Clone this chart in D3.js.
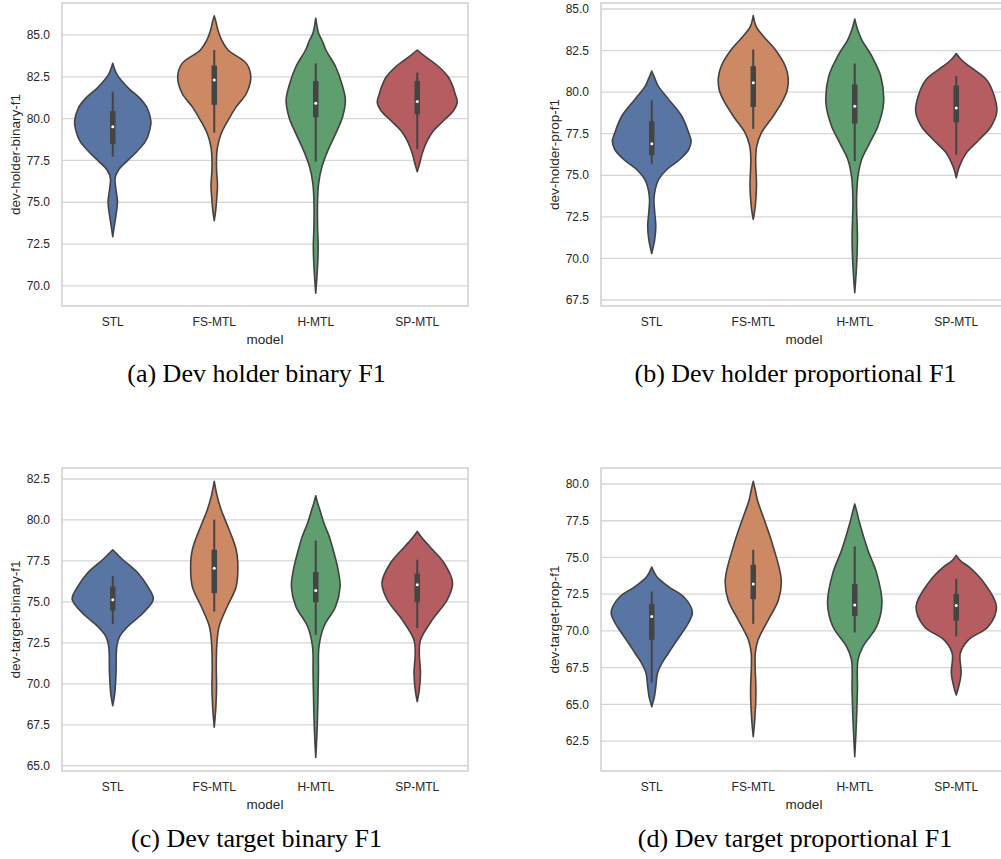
<!DOCTYPE html>
<html>
<head>
<meta charset="utf-8">
<script src="https://cdn.jsdelivr.net/npm/d3@7"></script>
<style>
  body { margin: 0; background: #fff; }
  .tick-label { font-family: "Liberation Sans", Arial, sans-serif; font-size: 12px; fill: #262626; }
  .axis-label { font-family: "Liberation Sans", Arial, sans-serif; font-size: 13.5px; fill: #262626; }
  .caption { font-family: "Liberation Serif", "Times New Roman", serif; font-size: 26px; fill: #000; }
</style>
</head>
<body>
<div id="chart"></div>
<script>
// categories shared by all four panels
var categories = ["STL", "FS-MTL", "H-MTL", "SP-MTL"]
var colors = ["#5975a4", "#cc8963", "#5f9e6e", "#b55d60"]

// violin outlines: [value, relative density] from top tip to bottom tip
var holderBinaryShapes = [
  [[83.31,0],[82.61,.11],[81.81,.39],[81.21,.67],[80.62,.85],[79.82,.94],[79.22,.9],[78.62,.8],[78.02,.59],[77.43,.34],[76.93,.14],[76.43,.057],[75.84,.074],[75.04,.115],[74.24,.08],[73.45,.03],[72.94,0]],
  [[86.14,0],[85.8,.04],[85.3,.09],[84.7,.18],[84.1,.34],[83.3,.79],[82.5,.9],[81.5,.79],[80.7,.54],[79.9,.34],[79.1,.17],[78.3,.08],[77.5,.055],[76.8,.06],[76.0,.08],[75.2,.06],[74.5,.035],[73.9,0]],
  [[86.0,0],[85.1,.07],[84.7,.15],[84.1,.25],[83.1,.49],[82.1,.64],[81.1,.73],[80.1,.66],[79.1,.49],[78.1,.3],[77.1,.15],[76.1,.07],[75.1,.045],[73.5,.045],[72.35,.06],[71.2,.045],[69.56,0]],
  [[84.1,0],[83.7,.2],[83.1,.53],[82.5,.76],[81.9,.88],[81.5,.93],[81.0,.985],[80.5,.9],[79.9,.66],[79.3,.41],[78.7,.25],[77.9,.12],[77.3,.057],[76.83,0]]
]
var holderPropShapes = [
  [[81.26,0],[80.86,.07],[80.36,.16],[79.55,.42],[78.55,.74],[77.55,.91],[77.05,.97],[76.55,.91],[75.95,.69],[75.35,.37],[74.75,.17],[74.15,.086],[73.55,.054],[72.75,.074],[71.95,.1],[71.15,.074],[70.3,0]],
  [[84.6,0],[83.96,.07],[83.36,.25],[82.56,.54],[81.56,.79],[80.86,.86],[80.16,.84],[79.55,.74],[78.55,.49],[77.55,.2],[76.75,.086],[75.95,.06],[74.35,.08],[73.15,.05],[72.35,0]],
  [[84.4,0],[83.76,.07],[83.16,.17],[82.16,.42],[80.96,.64],[79.35,.71],[77.95,.57],[76.95,.37],[75.95,.17],[74.95,.08],[73.55,.045],[71.15,.066],[69.55,.045],[67.94,0]],
  [[82.32,0],[81.96,.12],[81.56,.32],[80.76,.74],[79.96,.91],[78.85,1.0],[77.95,.86],[77.15,.57],[76.35,.25],[75.55,.08],[74.85,0]]
]
var targetBinaryShapes = [
  [[78.18,0],[77.88,.12],[77.57,.25],[76.76,.62],[75.94,.86],[75.17,1.0],[74.31,.74],[73.5,.37],[72.89,.17],[72.28,.1],[70.65,.08],[69.43,.05],[68.67,0]],
  [[82.36,0],[81.44,.074],[80.62,.17],[79.81,.3],[79.0,.43],[78.18,.54],[77.37,.58],[75.94,.54],[74.72,.32],[73.5,.12],[72.48,.066],[71.05,.05],[69.83,.057],[68.61,.04],[67.35,0]],
  [[81.48,0],[81.0,.05],[80.62,.1],[79.81,.2],[79.0,.33],[77.98,.45],[76.96,.55],[75.94,.6],[74.72,.49],[73.5,.2],[72.28,.08],[70.65,.066],[68.61,.05],[66.98,.03],[65.51,0]],
  [[79.3,0],[78.9,.12],[78.39,.3],[77.37,.66],[76.15,.87],[75.13,.74],[73.9,.37],[72.68,.08],[71.87,.05],[70.65,.08],[69.63,.05],[68.92,0]]
]
var targetPropShapes = [
  [[74.34,0],[73.7,.12],[73.02,.41],[72.34,.78],[71.66,.96],[71.21,1.0],[70.52,.9],[69.84,.74],[69.16,.57],[68.48,.41],[67.8,.25],[67.12,.14],[66.2,.1],[65.52,.066],[64.84,0]],
  [[80.18,0],[79.6,.05],[78.93,.1],[77.34,.3],[75.75,.49],[73.48,.69],[72.11,.62],[70.75,.37],[69.39,.12],[68.48,.05],[65.75,.066],[63.93,.037],[62.8,0]],
  [[78.64,0],[78.02,.06],[77.34,.12],[75.52,.32],[73.93,.54],[71.89,.67],[70.3,.54],[68.93,.2],[68.02,.08],[65.98,.066],[63.7,.04],[61.43,0]],
  [[75.14,0],[74.73,.12],[74.39,.3],[73.25,.69],[71.66,.99],[70.3,.79],[69.39,.3],[68.48,.1],[67.11,.12],[66.2,.06],[65.64,0]]
]

// inner box stats: [whisker low, q1, median, q3, whisker high]
var holderBinaryBox = [[77.73,78.49,79.52,80.46,81.61],[79.16,80.82,82.31,83.17,84.1],[77.43,80.08,80.92,82.25,83.3],[78.17,80.26,81.02,82.25,82.75]]
var holderPropBox = [[75.69,76.21,76.89,78.25,79.51],[77.79,79.11,80.56,81.56,82.56],[75.85,78.11,79.15,80.46,81.72],[76.25,78.19,79.05,80.4,80.96]]
var targetBinaryBox = [[73.64,74.48,75.13,75.94,76.59],[74.41,75.53,77.06,78.18,80.02],[72.99,74.98,75.7,76.82,78.75],[73.4,74.98,76.04,76.72,77.57]]
var targetPropBox = [[66.48,69.39,70.98,71.82,72.68],[70.48,72.16,73.2,74.5,75.52],[69.89,71.02,71.77,73.18,75.75],[69.61,70.7,71.73,72.52,73.55]]

// y ticks per panel
var holderBinaryTicks = [70, 72.5, 75, 77.5, 80, 82.5, 85]
var holderPropTicks = [67.5, 70, 72.5, 75, 77.5, 80, 82.5, 85]
var targetBinaryTicks = [65, 67.5, 70, 72.5, 75, 77.5, 80, 82.5]
var targetPropTicks = [62.5, 65, 67.5, 70, 72.5, 75, 77.5, 80]

var svg = d3.select("#chart").append("svg")
  .attr("width", 1001)
  .attr("height", 859)

var panels = [
  {shapes: holderBinaryShapes, box: holderBinaryBox, ticks: holderBinaryTicks, domain: [68.8, 86.91],
   left: 62, top: 3, ylabel: "dev-holder-binary-f1", caption: "(a) Dev holder binary F1", capX: 256.5},
  {shapes: holderPropShapes, box: holderPropBox, ticks: holderPropTicks, domain: [67.14, 85.36],
   left: 601, top: 3, ylabel: "dev-holder-prop-f1", caption: "(b) Dev holder proportional F1", capX: 795.5},
  {shapes: targetBinaryShapes, box: targetBinaryBox, ticks: targetBinaryTicks, domain: [64.68, 83.17],
   left: 62, top: 468, ylabel: "dev-target-binary-f1", caption: "(c) Dev target binary F1", capX: 256.5},
  {shapes: targetPropShapes, box: targetPropBox, ticks: targetPropTicks, domain: [60.46, 81.09],
   left: 601, top: 468, ylabel: "dev-target-prop-f1", caption: "(d) Dev target proportional F1", capX: 795}
]

var plotWidth = 406
var plotHeight = 303
var fmt = d3.format(".1f")

panels.forEach(function (p) {
  var g = svg.append("g").attr("transform", `translate(${p.left},${p.top})`)

  var x = d3.scaleBand().domain(categories).range([0, plotWidth]).padding(0)
  var y = d3.scaleLinear().domain(p.domain).range([plotHeight, 0])
  var w = d3.scaleLinear().domain([0, 1]).range([0, x.bandwidth() * 0.4])

  // grid lines
  g.selectAll(".grid")
    .data(p.ticks)
    .enter().append("line")
    .attr("x1", 0).attr("x2", plotWidth)
    .attr("y1", d => y(d)).attr("y2", d => y(d))
    .attr("stroke", "#d6d6d6")
    .attr("stroke-width", 1.3)

  // frame
  g.append("rect")
    .attr("width", plotWidth).attr("height", plotHeight)
    .attr("fill", "none")
    .attr("stroke", "#cfcfcf")
    .attr("stroke-width", 1.5)

  // y tick labels
  g.selectAll(".ytick")
    .data(p.ticks)
    .enter().append("text")
    .attr("class", "tick-label")
    .attr("x", -12)
    .attr("y", d => y(d))
    .attr("dy", "0.35em")
    .attr("text-anchor", "end")
    .text(d => fmt(d))

  // x tick labels
  g.selectAll(".xtick")
    .data(categories)
    .enter().append("text")
    .attr("class", "tick-label")
    .attr("x", d => x(d) + x.bandwidth() / 2)
    .attr("y", plotHeight + 16)
    .attr("dy", "0.35em")
    .attr("text-anchor", "middle")
    .text(d => d)

  // axis labels
  g.append("text")
    .attr("class", "axis-label")
    .attr("x", plotWidth / 2)
    .attr("y", plotHeight + 33)
    .attr("dy", "0.35em")
    .attr("text-anchor", "middle")
    .text("model")

  g.append("text")
    .attr("class", "axis-label")
    .attr("transform", "rotate(-90)")
    .attr("x", -plotHeight / 2)
    .attr("y", -47)
    .attr("dy", "0.35em")
    .attr("text-anchor", "middle")
    .text(p.ylabel)

  // violins
  categories.forEach(function (cat, i) {
    var cx = x(cat) + x.bandwidth() / 2
    var area = d3.area()
      .curve(d3.curveCatmullRom.alpha(0.5))
      .y(d => y(d[0]))
      .x0(d => cx - w(d[1]))
      .x1(d => cx + w(d[1]))

    g.append("path")
      .datum(p.shapes[i])
      .attr("d", area)
      .attr("fill", colors[i])
      .attr("stroke", "#424242")
      .attr("stroke-width", 1.6)
      .attr("stroke-linejoin", "round")

    var b = p.box[i]
    // whisker
    g.append("line")
      .attr("x1", cx).attr("x2", cx)
      .attr("y1", y(b[0])).attr("y2", y(b[4]))
      .attr("stroke", "#444")
      .attr("stroke-width", 2)
    // box
    g.append("line")
      .attr("x1", cx).attr("x2", cx)
      .attr("y1", y(b[1])).attr("y2", y(b[3]))
      .attr("stroke", "#444")
      .attr("stroke-width", 5.5)
    // median
    g.append("circle")
      .attr("cx", cx).attr("cy", y(b[2]))
      .attr("r", 1.5)
      .attr("fill", "#fff")
  })

  // caption
  svg.append("text")
    .attr("class", "caption")
    .attr("x", p.capX)
    .attr("y", p.top + plotHeight + 76)
    .attr("text-anchor", "middle")
    .text(p.caption)
})
</script>
</body>
</html>
